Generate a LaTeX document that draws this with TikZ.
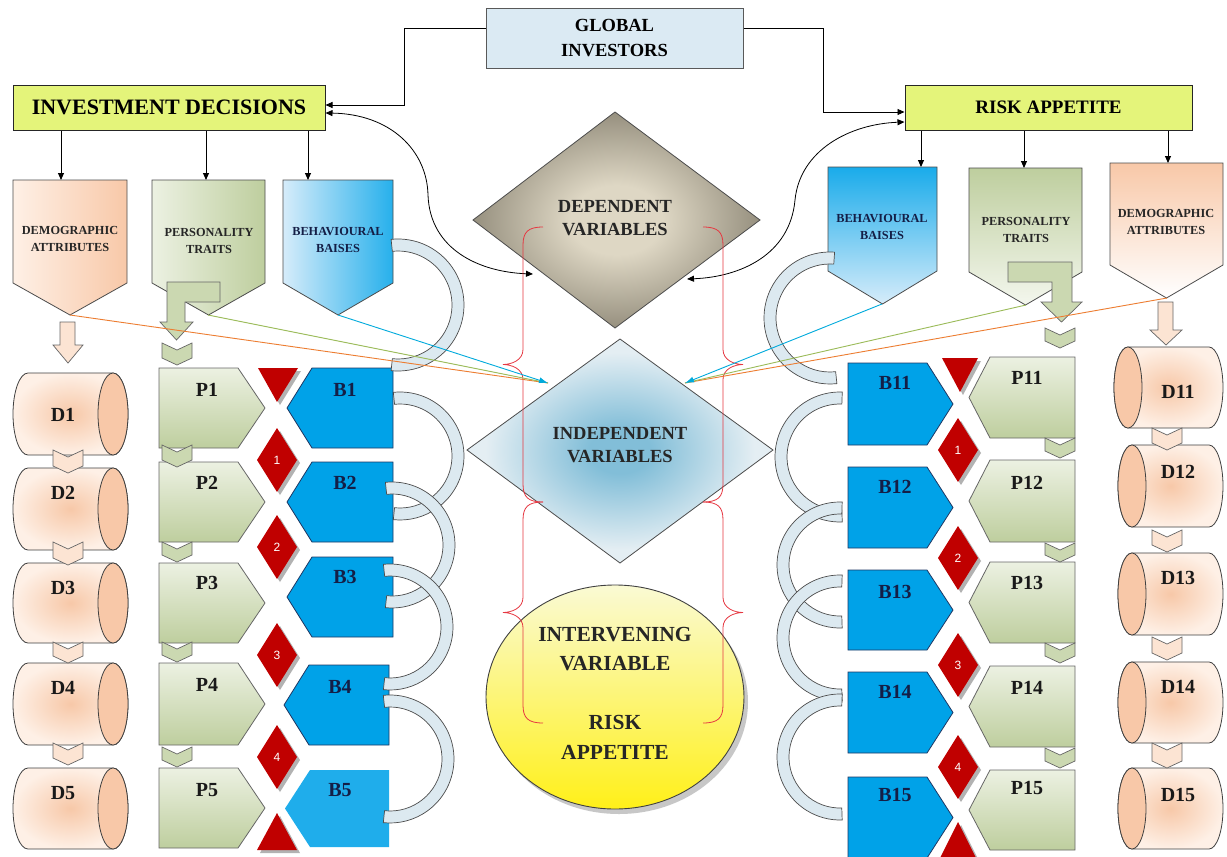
\documentclass[tikz,border=0pt]{standalone}
\usepackage{fontspec}
\setmainfont{Liberation Serif}
\newfontfamily\numfont{Liberation Sans}
\usetikzlibrary{arrows.meta,calc}

\definecolor{limefill}{RGB}{228,244,122}
\definecolor{giblue}{RGB}{219,234,243}
\definecolor{peach}{RGB}{248,200,168}
\definecolor{peachmid}{RGB}{247,200,168}
\definecolor{peachlt}{RGB}{254,240,230}
\definecolor{sage}{RGB}{190,206,158}
\definecolor{sagelt}{RGB}{236,241,226}
\definecolor{bblue}{RGB}{0,162,232}
\definecolor{bbluelt}{RGB}{214,236,250}
\definecolor{bedge}{RGB}{31,56,100}
\definecolor{ringfill}{RGB}{220,233,240}
\definecolor{dred}{RGB}{192,0,0}
\definecolor{bracered}{RGB}{230,55,65}
\definecolor{lnorange}{RGB}{237,125,49}
\definecolor{lngreen}{RGB}{155,187,89}
\definecolor{lncyan}{RGB}{0,170,220}
\definecolor{depC}{RGB}{222,215,196}
\definecolor{depD}{RGB}{112,106,90}
\definecolor{indC}{RGB}{130,190,216}
\definecolor{indE}{RGB}{228,238,243}
\definecolor{yelTop}{RGB}{250,250,212}
\definecolor{yelMid}{RGB}{250,250,135}
\definecolor{yelBot}{RGB}{255,240,25}
\definecolor{navytxt}{RGB}{20,30,70}

\pgfdeclareradialshading{depglow}{\pgfpoint{0bp}{0bp}}{color(0bp)=(depC); color(8bp)=(depC); color(34bp)=(depD); color(50bp)=(depD)}
\pgfdeclareradialshading{indglow}{\pgfpoint{0bp}{0bp}}{color(0bp)=(indC); color(5bp)=(indC); color(22bp)=(indE); color(50bp)=(indE)}

% pentagon pointing down: x1, x2, top, side bottom, tip, style
\newcommand{\downpent}[6]{\path[#6] (#1,#3) -- (#2,#3) -- (#2,#4) -- ({(#1+#2)/2},#5) -- (#1,#4) -- cycle;}
% plate pointing right: x1, slant start, tip, top, bottom, style
\newcommand{\rplate}[6]{\path[#6] (#1,#4) -- (#2,#4) -- (#3,{(#4+#5)/2}) -- (#2,#5) -- (#1,#5) -- cycle;}
% plate pointing left: tip, slant start, x2, top, bottom, style
\newcommand{\lplate}[6]{\path[#6] (#1,{(#4+#5)/2}) -- (#2,#4) -- (#3,#4) -- (#3,#5) -- (#2,#5) -- cycle;}
% small downward chevron: centre x, top, bottom, style
\newcommand{\chevdown}[4]{\path[#4] ({#1-15},#2) -- (#1,{#2+7}) -- ({#1+15},#2) -- ({#1+15},{#3-7}) -- (#1,#3) -- ({#1-15},{#3-7}) -- cycle;}
% lying cylinder, end face on the right: x1, x2, top, bottom
\newcommand{\cylright}[4]{%
  \pgfmathsetmacro\cry{(#4-#3)/2}%
  \path[cylbody] ({#1+15},#3) arc[start angle=-90,end angle=-270,x radius=15,y radius=\cry]
     -- ({#2-15},#4) arc[start angle=90,end angle=-90,x radius=15,y radius=\cry] -- cycle;
  \path[cylface] ({#2-15},{(#3+#4)/2}) ellipse[x radius=15,y radius=\cry];}
% lying cylinder, end face on the left
\newcommand{\cylleft}[4]{%
  \pgfmathsetmacro\cry{(#4-#3)/2}%
  \path[cylbody] ({#2-14},#3) arc[start angle=-90,end angle=90,x radius=14,y radius=\cry]
     -- ({#1+14},#4) arc[start angle=90,end angle=270,x radius=14,y radius=\cry] -- cycle;
  \path[cylface] ({#1+14},{(#3+#4)/2}) ellipse[x radius=14,y radius=\cry];}
% thick ring segment: cx, cy, start, end, inner r, outer r
\newcommand{\blockarc}[6]{\path[ringst] ([shift={(#3:#6)}]#1,#2) arc[start angle=#3,end angle=#4,radius=#6]
     -- ([shift={(#4:#5)}]#1,#2) arc[start angle=#4,end angle=#3,radius=#5] -- cycle;}
% numbered red diamond: name, x, y, number
\newcommand{\reddia}[4]{%
  \fill[shadowc] ({#2+3},{#3-29}) -- ({#2+23},{#3+3}) -- ({#2+3},{#3+35}) -- ({#2-17},{#3+3}) -- cycle;
  \fill[dred] (#2,{#3-32}) -- ({#2+20},#3) -- (#2,{#3+32}) -- ({#2-20},#3) -- cycle;
  \node[numst] (#1) at (#2,#3) {#4};}
% red triangle: three corners
\newcommand{\redtri}[6]{%
  \fill[shadowc] ({#1+3},{#2+3}) -- ({#3+3},{#4+3}) -- ({#5+3},{#6+3}) -- cycle;
  \fill[dred] (#1,#2) -- (#3,#4) -- (#5,#6) -- cycle;}
% curly bracket opening to the right: arm end x, spine x, tip x, top, bottom
\newcommand{\bracketpath}[5]{%
  \pgfmathsetmacro\bym{(#4+#5)/2}%
  \draw[bracest] (#1,#4) .. controls ({#2+0.25*(#1-#2)},#4) and (#2,{#4+5}) .. (#2,{#4+18})
     -- (#2,{\bym-15}) .. controls (#2,{\bym-4}) and ({#3+0.4*(#2-#3)},\bym) .. (#3,\bym)
     .. controls ({#3+0.4*(#2-#3)},\bym) and (#2,{\bym+4}) .. (#2,{\bym+15})
     -- (#2,{#5-18}) .. controls (#2,{#5-5}) and ({#2+0.25*(#1-#2)},#5) .. (#1,#5);}

\begin{document}
\begin{tikzpicture}[x=1pt,y=-1pt,line join=miter,
  conn/.style={draw=black, line width=0.9pt, -{Triangle[length=7pt,width=6pt]}},
  curv/.style={draw=black, line width=0.8pt, {Triangle[length=7pt,width=6pt]}-{Triangle[length=7pt,width=6pt]}},
  limebox/.style={draw=black!85, fill=limefill, line width=1pt, inner sep=0},
  gibox/.style={draw=black!65, fill=giblue, line width=1pt, align=center, inner sep=0},
  pent/.style={draw=black!70, line width=0.8pt},
  capt/.style={font=\bfseries\fontsize{12.3}{17.5}\selectfont, align=center, inner sep=0, text=black!85},
  bigt/.style={font=\bfseries\fontsize{18.5}{23.5}\selectfont, align=center, inner sep=0, text=black!85},
  tag/.style={font=\bfseries\fontsize{20}{22}\selectfont, inner sep=0, text=black!90},
  numst/.style={font=\numfont\fontsize{12}{12}\selectfont, text=white, inner sep=0},
  cylbody/.style={draw=black!75, line width=0.8pt, inner color=peachmid, outer color=peachlt},
  cylface/.style={draw=black!75, line width=0.8pt, fill=peach},
  pbox/.style={draw=black!60, line width=0.8pt, top color=sagelt, bottom color=sage},
  bbox/.style={draw=bedge, line width=0.8pt, fill=bblue},
  chevP/.style={draw=black!60, line width=0.7pt, fill=sage!80!white},
  chevD/.style={draw=black!60, line width=0.7pt, fill=peachlt!70!peach},
  ringst/.style={draw=black!70, fill=ringfill, line width=0.7pt},
  shadowc/.style={fill=black!30},
  bracest/.style={draw=bracered, line width=0.8pt},
  thin/.style={line width=0.9pt}]

\useasboundingbox (0,0) rectangle (1227,857);
\fill[white] (0,0) rectangle (1227,857);

% ---------- top boxes ----------
\node[gibox, minimum width=257pt, minimum height=60pt, font=\bfseries\fontsize{18.5}{25}\selectfont] (glob) at (614.5,38) {GLOBAL\\INVESTORS};
\node[limebox, minimum width=312pt, minimum height=45pt, font=\bfseries\fontsize{22}{24}\selectfont] (invdec) at (169,107.5) {INVESTMENT DECISIONS};
\node[limebox, minimum width=287pt, minimum height=45pt, font=\bfseries\fontsize{19}{20}\selectfont] (riskbox) at (1048.5,107.5) {RISK APPETITE};

\draw[conn] ([yshift=10pt]glob.west) -- ++(-81,0) |- ([yshift=2.5pt]invdec.east);
\draw[conn] ([yshift=10pt]glob.east) -- ++(80,0) |- ([yshift=-4.5pt]riskbox.west);

% ---------- category pentagons ----------
\downpent{13}{127}{180}{283}{315}{pent, left color=peachlt, right color=peach}
\downpent{152}{265}{180}{283}{315}{pent, left color=sagelt, right color=sage}
\downpent{283}{393}{180}{283}{315}{pent, left color=bbluelt, right color=bblue!85}
\downpent{828}{937}{167}{271}{304}{pent, top color=bblue!90, bottom color=bbluelt}
\downpent{969}{1082}{168}{272}{305}{pent, top color=sage, bottom color=sagelt!60!white}
\downpent{1110}{1223}{163}{265}{298}{pent, top color=peach, bottom color=white}

\node[capt] (demLtxt) at (70,239) {DEMOGRAPHIC\\ATTRIBUTES};
\node[capt] (perLtxt) at (209,241) {PERSONALITY\\TRAITS};
\node[capt, text=navytxt] (behLtxt) at (338,240) {BEHAVIOURAL\\BAISES};
\node[capt, text=navytxt] (behRtxt) at (882,227) {BEHAVIOURAL\\BAISES};
\node[capt] (perRtxt) at (1026,230) {PERSONALITY\\TRAITS};
\node[capt] (demRtxt) at (1166,222) {DEMOGRAPHIC\\ATTRIBUTES};

\coordinate (demLtop) at (61,180);
\coordinate (perLtop) at (206,180);
\coordinate (behLtop) at (308,180);
\coordinate (behRtop) at (921,167);
\coordinate (perRtop) at (1024,168);
\coordinate (demRtop) at (1168,163);
\foreach \t in {demLtop,perLtop,behLtop}{\draw[conn] (invdec.south -| \t) -- (\t);}
\foreach \t in {behRtop,perRtop,demRtop}{\draw[conn] (riskbox.south -| \t) -- (\t);}

% ---------- variables in the middle ----------
\shadedraw[draw=black!70, line width=0.8pt, shading=depglow] (615,112) -- (760,220) -- (615,328) -- (473,220) -- cycle;
\node[bigt] (deptxt) at (615,218) {DEPENDENT\\VARIABLES};

\shadedraw[draw=black!70, line width=0.8pt, shading=indglow] (620,339) -- (773,450) -- (620,563) -- (467,450) -- cycle;
\node[bigt] (indtxt) at (620,445) {INDEPENDENT\\VARIABLES};

\fill[black!22] (619,702) ellipse[x radius=129, y radius=112];
\shadedraw[draw=black!75, line width=0.9pt, top color=yelTop, middle color=yelMid, bottom color=yelBot] (615,697) ellipse[x radius=129, y radius=112];
\node[bigt, font=\bfseries\fontsize{21.5}{29}\selectfont] (intvtxt) at (615,649) {INTERVENING\\VARIABLE};
\node[bigt, font=\bfseries\fontsize{21.5}{30}\selectfont] (intvrisk) at (615,737) {RISK\\APPETITE};

\coordinate (depL) at (533,274);
\coordinate (depR) at (687,279);
\draw[curv] ([yshift=-5.5pt]invdec.east) .. controls (390,114) and (427,150) .. (428,195) .. controls (430,250) and (480,272) .. (depL);
\draw[curv] ([yshift=-14.5pt]riskbox.west) .. controls (850,124) and (800,150) .. (795,200) .. controls (790,255) and (740,277) .. (depR);

% ---------- red brackets ----------
\bracketpath{543}{523}{503}{227}{502}
\bracketpath{543}{523}{503}{502}{723}
\bracketpath{703}{723}{743}{227}{502}
\bracketpath{703}{723}{743}{502}{723}

% ---------- left columns ----------
\cylright{13}{128}{373}{455}
\cylright{13}{128}{468}{550}
\cylright{13}{128}{563}{643}
\cylright{13}{128}{663}{745}
\cylright{13}{128}{768}{849}
\node[tag] (d1) at (63,415) {D1};
\node[tag] (d2) at (63,493) {D2};
\node[tag] (d3) at (63,588) {D3};
\node[tag] (d4) at (63,688) {D4};
\node[tag] (d5) at (63,793) {D5};

\rplate{159}{238}{265}{368}{448}{pbox}
\rplate{159}{238}{265}{462}{542}{pbox}
\rplate{159}{238}{265}{563}{643}{pbox}
\rplate{159}{238}{265}{663}{745}{pbox}
\rplate{159}{238}{265}{768}{848}{pbox}
\node[tag] (p1) at (207,390) {P1};
\node[tag] (p2) at (207,483) {P2};
\node[tag] (p3) at (207,583) {P3};
\node[tag] (p4) at (207,685) {P4};
\node[tag] (p5) at (207,790) {P5};

\lplate{287}{312}{393}{368}{448}{bbox}
\lplate{287}{312}{393}{462}{542}{bbox}
\lplate{287}{312}{393}{557}{637}{bbox}
\lplate{284}{309}{389}{665}{745}{bbox}
\lplate{285}{310}{389}{770}{847}{fill=bblue!88!white}
\node[tag, text=navytxt] (b1) at (345,390) {B1};
\node[tag, text=navytxt] (b2) at (345,483) {B2};
\node[tag, text=navytxt] (b3) at (345,577) {B3};
\node[tag, text=navytxt] (b4) at (340,687) {B4};
\node[tag, text=navytxt] (b5) at (340,790) {B5};

\chevdown{68}{450}{473}{chevD}
\chevdown{68}{542}{565}{chevD}
\chevdown{68}{642}{663}{chevD}
\chevdown{68}{743}{765}{chevD}
\chevdown{177}{343}{365}{chevP}
\chevdown{177}{445}{467}{chevP}
\chevdown{177}{542}{562}{chevP}
\chevdown{177}{642}{662}{chevP}
\chevdown{177}{747}{767}{chevP}

% block arrows feeding the first rows
\path[chevD] (60,322) -- (75,322) -- (75,345) -- (83,345) -- (68,363) -- (53,345) -- (60,345) -- cycle;
\path[chevP] (167,282) -- (220,282) -- (220,302) -- (185,302) -- (185,322) -- (193,322) -- (176.5,340) -- (160,322) -- (167,322) -- cycle;

% ---------- right columns ----------
\cylleft{1114}{1223}{347}{428}
\cylleft{1118}{1223}{445}{527}
\cylleft{1118}{1223}{553}{635}
\cylleft{1118}{1223}{662}{743}
\cylleft{1118}{1223}{768}{849}
\node[tag] (d11) at (1178,392) {D11};
\node[tag] (d12) at (1178,472) {D12};
\node[tag] (d13) at (1178,578) {D13};
\node[tag] (d14) at (1178,687) {D14};
\node[tag] (d15) at (1178,795) {D15};

\lplate{969}{990}{1075}{357}{438}{pbox}
\lplate{969}{990}{1075}{460}{542}{pbox}
\lplate{969}{990}{1075}{562}{643}{pbox}
\lplate{969}{990}{1075}{666}{747}{pbox}
\lplate{969}{990}{1075}{770}{850}{pbox}
\node[tag] (p11) at (1027,378) {P11};
\node[tag] (p12) at (1027,483) {P12};
\node[tag] (p13) at (1027,583) {P13};
\node[tag] (p14) at (1027,688) {P14};
\node[tag] (p15) at (1027,788) {P15};

\rplate{848}{927}{953}{363}{445}{bbox}
\rplate{848}{927}{953}{467}{548}{bbox}
\rplate{848}{927}{953}{570}{650}{bbox}
\rplate{848}{927}{953}{672}{753}{bbox}
\rplate{848}{927}{953}{777}{858}{bbox}
\node[tag, text=navytxt] (b11) at (895,383) {B11};
\node[tag, text=navytxt] (b12) at (895,487) {B12};
\node[tag, text=navytxt] (b13) at (895,592) {B13};
\node[tag, text=navytxt] (b14) at (895,692) {B14};
\node[tag, text=navytxt] (b15) at (895,795) {B15};

\chevdown{1167}{428}{450}{chevD}
\chevdown{1167}{530}{552}{chevD}
\chevdown{1167}{637}{660}{chevD}
\chevdown{1167}{743}{768}{chevD}
\chevdown{1060}{328}{348}{chevP}
\chevdown{1060}{438}{458}{chevP}
\chevdown{1060}{543}{562}{chevP}
\chevdown{1060}{643}{663}{chevP}
\chevdown{1060}{748}{768}{chevP}

\path[chevD] (1158,302) -- (1173,302) -- (1173,330) -- (1182,330) -- (1166,345) -- (1150,330) -- (1158,330) -- cycle;
\path[chevP] (1008,262) -- (1072,262) -- (1072,302) -- (1082,302) -- (1061.5,322) -- (1041,302) -- (1052,302) -- (1052,282) -- (1008,282) -- cycle;

% ---------- linking rings ----------
\blockarc{398}{305}{-96}{96}{54}{66}
\blockarc{400}{456}{-96}{96}{52}{64}
\blockarc{392}{545}{-96}{96}{51}{63}
\blockarc{390}{627}{-96}{96}{51}{63}
\blockarc{390}{759}{-96}{96}{52}{64}

\blockarc{830}{318}{274}{84}{54}{66}
\blockarc{840}{457}{272}{88}{53}{65}
\blockarc{840}{565}{272}{88}{51}{63}
\blockarc{840}{638}{272}{88}{51}{63}
\blockarc{840}{757}{272}{88}{51}{63}

% ---------- influence lines to the independent variables ----------
\coordinate (demLtip) at (70,315);
\coordinate (perLtip) at (208,315);
\coordinate (behLtip) at (338,315);
\coordinate (behRtip) at (882,304);
\coordinate (perRtip) at (1026,305);
\coordinate (demRtip) at (1167,298);
\coordinate (indL) at (548,383);
\coordinate (indR) at (685,383);
\draw[thin, lnorange] (demLtip) -- (indL);
\draw[thin, lngreen] (perLtip) -- (indL);
\draw[thin, lncyan, -{Latex[length=9pt,width=6pt]}] (behLtip) -- (indL);
\draw[thin, lnorange] (demRtip) -- (indR);
\draw[thin, lngreen] (perRtip) -- (indR);
\draw[thin, lncyan, -{Latex[length=9pt,width=6pt]}] (behRtip) -- (indR);

% ---------- red markers ----------
\redtri{258}{368}{298}{368}{277}{402}
\reddia{rl1}{277}{460}{1}
\reddia{rl2}{277}{547}{2}
\reddia{rl3}{277}{655}{3}
\reddia{rl4}{277}{757}{4}
\redtri{257}{850}{297}{850}{277}{813}

\redtri{942}{358}{978}{358}{960}{392}
\reddia{rr1}{958}{450}{1}
\reddia{rr2}{958}{558}{2}
\reddia{rr3}{958}{665}{3}
\reddia{rr4}{958}{767}{4}
\redtri{938}{862}{978}{862}{958}{822}
\end{tikzpicture}
\end{document}
